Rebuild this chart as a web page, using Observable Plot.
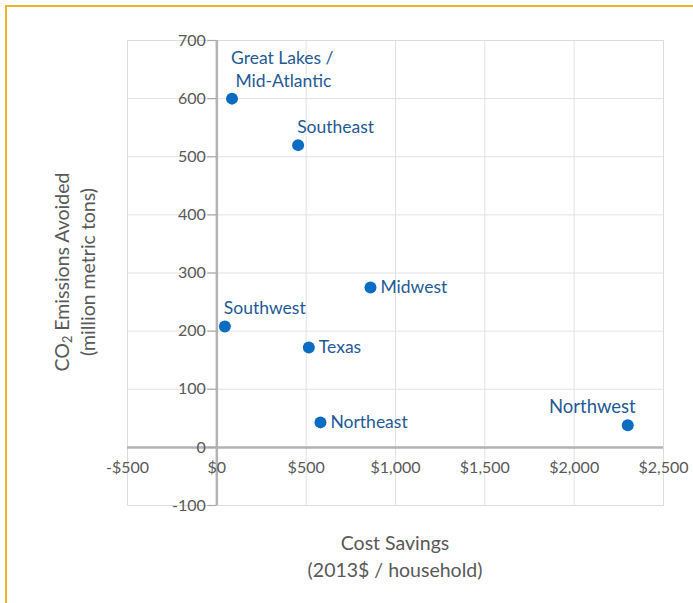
<!DOCTYPE html>
<html><head><meta charset="utf-8">
<script src="https://cdn.jsdelivr.net/npm/d3@7"></script>
<script src="https://cdn.jsdelivr.net/npm/@observablehq/plot@0.6"></script>
<style>
body{margin:0;background:#fff;}
#wrap{position:relative;width:693px;height:603px;overflow:hidden;font-family:Lato,"Open Sans",sans-serif;}
#border{position:absolute;left:5px;top:5px;right:-5px;bottom:-5px;border-top:2px solid #f0b323;border-left:2px solid #f0b323;pointer-events:none;}
svg{display:block}
.title{position:absolute;color:#595959;font-size:19.5px;text-align:center;white-space:nowrap;}
#ytitle{left:75px;top:272px;line-height:26px;transform:translate(-50%,-50%) rotate(-90deg);}
#xtitle{left:395px;top:556px;line-height:27px;transform:translate(-50%,-50%);}
sub{font-size:0.65em;vertical-align:-0.25em;line-height:0;}
</style>
</head><body>
<div id="wrap"><div id="chart"></div><div id="ytitle" class="title"></div><div id="xtitle" class="title"></div><div id="border"></div></div>
<script>
const regions = ["Great Lakes /\n Mid-Atlantic", "Southeast", "Midwest", "Southwest", "Texas", "Northeast", "Northwest"];
const costSavings = [85, 455, 860, 45, 515, 580, 2300];
const co2Avoided = [600, 520, 275, 208, 172, 43, 38];
const xTicks = [-500, 0, 500, 1000, 1500, 2000, 2500];
const xTickLabels = ["-$500", "$0", "$500", "$1,000", "$1,500", "$2,000", "$2,500"];
const yTicks = [-100, 0, 100, 200, 300, 400, 500, 600, 700];
const yTickLabels = ["-100", "0", "100", "200", "300", "400", "500", "600", "700"];
const xTitleLines = ["Cost Savings", "(2013$ / household)"];
const yTitleLines = ["CO<sub>2</sub> Emissions Avoided", "(million metric tons)"];

const points = regions.map((r, i) => ({region: r, x: costSavings[i], y: co2Avoided[i]}));
const aboveStart = ["Great Lakes /\n Mid-Atlantic", "Southeast", "Southwest"];
const aboveEnd = ["Northwest"];
const rightSide = ["Midwest", "Texas", "Northeast"];

const labelColor = "#1f5a96";
const dotColor = "#0a6cc2";
const axisText = "#595959";

const chart = Plot.plot({
  width: 693,
  height: 603,
  marginLeft: 127,
  marginRight: 30,
  marginTop: 40,
  marginBottom: 98,
  style: {fontFamily: "Lato, 'Open Sans', sans-serif", background: "transparent"},
  x: {domain: [-500, 2500], axis: null},
  y: {domain: [-100, 700], axis: null},
  marks: [
    Plot.gridX(xTicks, {stroke: "#e2e2e2", strokeOpacity: 1}),
    Plot.gridY(yTicks, {stroke: "#e2e2e2", strokeOpacity: 1}),
    Plot.frame({stroke: "#dcdcdc"}),
    Plot.ruleX([0], {stroke: "#b3b3b3", strokeWidth: 2.5}),
    Plot.ruleY([0], {stroke: "#b3b3b3", strokeWidth: 2.5}),
    Plot.ruleY(yTicks, {y: d => d, x1: 0, x2: 0, insetLeft: -9, stroke: "#aaa", strokeWidth: 1.2}),
    Plot.text(yTicks, {x: 0, y: d => d, text: (d, i) => yTickLabels[i], textAnchor: "end", dx: -11, fill: axisText, fontSize: 16}),
    Plot.text(xTicks, {x: d => d, y: 0, text: (d, i) => xTickLabels[i], textAnchor: "middle", dy: 20, fill: axisText, fontSize: 16}),
    Plot.dot(points, {x: "x", y: "y", r: 6, fill: dotColor, stroke: null}),
    Plot.text(points.filter(d => aboveStart.includes(d.region)), {x: "x", y: "y", text: "region", textAnchor: "start", lineAnchor: "bottom", dx: -1, dy: -12, fill: labelColor, fontSize: 17.5, lineHeight: 1.3}),
    Plot.text(points.filter(d => aboveEnd.includes(d.region)), {x: "x", y: "y", text: "region", textAnchor: "end", lineAnchor: "bottom", dx: 8, dy: -12, fill: labelColor, fontSize: 18.5}),
    Plot.text(points.filter(d => rightSide.includes(d.region)), {x: "x", y: "y", text: "region", textAnchor: "start", dx: 10, fill: labelColor, fontSize: 17.5})
  ]
});
document.getElementById("chart").appendChild(chart);
document.getElementById("ytitle").innerHTML = yTitleLines.join("<br>");
document.getElementById("xtitle").innerHTML = xTitleLines.join("<br>");
</script>
</body></html>
